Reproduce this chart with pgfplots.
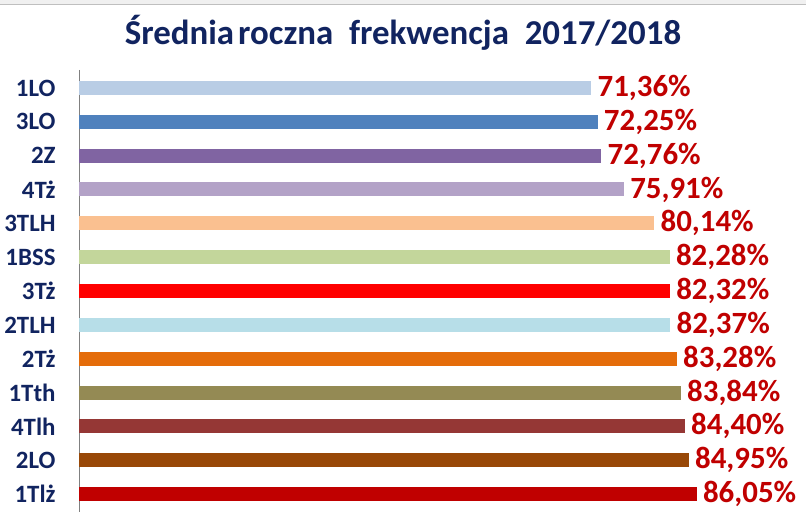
\documentclass[border=0pt]{standalone}
\usepackage{pgfplots}
\pgfplotsset{compat=1.18}
\usepackage{fontspec}
\setmainfont{Carlito}
\definecolor{navy}{HTML}{112460}
\definecolor{lab}{HTML}{C00000}
\definecolor{ca}{HTML}{B9CDE5}
\definecolor{cb}{HTML}{4F81BD}
\definecolor{cc}{HTML}{8064A2}
\definecolor{cd}{HTML}{B3A2C7}
\definecolor{ce}{HTML}{FAC090}
\definecolor{cf}{HTML}{C3D69B}
\definecolor{cg}{HTML}{FF0000}
\definecolor{ch}{HTML}{B7DEE8}
\definecolor{ci}{HTML}{E46C0A}
\definecolor{cj}{HTML}{948A54}
\definecolor{ck}{HTML}{953735}
\definecolor{cl}{HTML}{984807}
\definecolor{cm}{HTML}{C00000}
\begin{document}
\begin{tikzpicture}[x=1bp,y=1bp]
\path[use as bounding box] (0,0) rectangle (806,518);
\fill[gray!12] (0,514) rectangle (806,518);
\draw[gray!50] (0,514) -- (806,514);
\node[anchor=base,text=navy,font=\fontsize{35}{40}\selectfont\bfseries] at (403,473) {Średnia\hspace{0.12em}roczna\ \ frekwencja\ \ 2017/2018};
\begin{axis}[
  at={(79bp,6bp)}, anchor=south west,
  scale only axis, width=727bp, height=442bp,
  xmin=0, xmax=101.25, ymin=-0.53, ymax=12.53,
  y dir=reverse,
  xbar, bar width=14bp, bar shift=0pt,
  axis x line=none, axis y line*=left,
  y axis line style={draw=gray, -},
  ytick={0,...,12},
  yticklabels={1LO,3LO,2Z,4Tż,3TLH,1BSS,3Tż,2TLH,2Tż,1Tth,4Tlh,2LO,1Tlż},
  ytick style={draw=none},
  yticklabel style={anchor=east, inner sep=0pt, xshift=-19bp, text=navy, font=\fontsize{25}{28}\selectfont\bfseries},
  /pgf/number format/assume math mode=true,
  nodes near coords={\pgfmathprintnumber[fixed,fixed zerofill,precision=2,use comma,assume math mode=true]{\pgfplotspointmeta}\%},
  nodes near coords style={anchor=west, inner sep=0pt, xshift=6bp, text=lab, font=\fontsize{31}{34}\selectfont\bfseries},
]
\addplot[draw=none, fill=ca] coordinates {(71.36,0)};
\addplot[draw=none, fill=cb] coordinates {(72.25,1)};
\addplot[draw=none, fill=cc] coordinates {(72.76,2)};
\addplot[draw=none, fill=cd] coordinates {(75.91,3)};
\addplot[draw=none, fill=ce] coordinates {(80.14,4)};
\addplot[draw=none, fill=cf] coordinates {(82.28,5)};
\addplot[draw=none, fill=cg] coordinates {(82.32,6)};
\addplot[draw=none, fill=ch] coordinates {(82.37,7)};
\addplot[draw=none, fill=ci] coordinates {(83.28,8)};
\addplot[draw=none, fill=cj] coordinates {(83.84,9)};
\addplot[draw=none, fill=ck] coordinates {(84.40,10)};
\addplot[draw=none, fill=cl] coordinates {(84.95,11)};
\addplot[draw=none, fill=cm] coordinates {(86.05,12)};
\end{axis}
\end{tikzpicture}
\end{document}
